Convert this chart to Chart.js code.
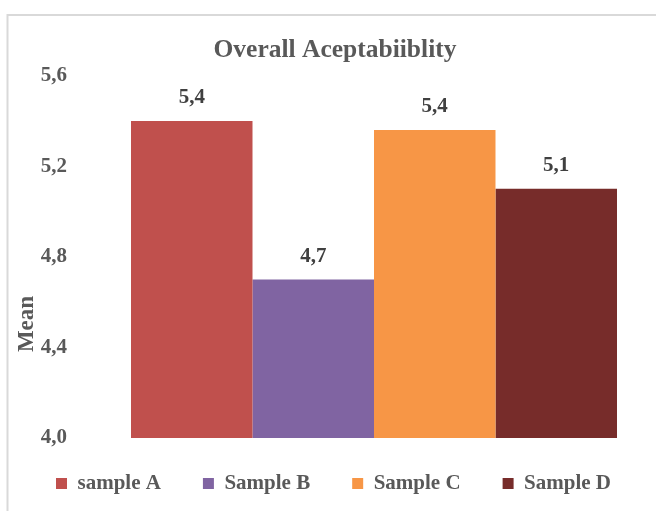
<!DOCTYPE html>
<html>
<head>
<meta charset="utf-8">
<script src="https://cdn.jsdelivr.net/npm/chart.js@4.4.1/dist/chart.umd.min.js"></script>
<style>
  html, body { margin: 0; padding: 0; background: #ffffff; }
  #wrap { width: 656px; height: 511px; position: relative; }
</style>
</head>
<body>
<div id="wrap"><canvas id="chart" width="656" height="511"></canvas></div>
<script>
// Mean overall acceptability score for each sample
const categories = ['Overall Aceptabiiblity'];
const sampleNames = ['sample A', 'Sample B', 'Sample C', 'Sample D'];
const sampleMeans = [5.40, 4.70, 5.36, 5.10];
const sampleColors = ['#C0504D', '#8064A2', '#F79646', '#772C2A'];
const yTicks = { min: 4.0, max: 5.6, step: 0.4 };

const SERIF = '"Liberation Serif", "Times New Roman", serif';
const fmt = v => v.toFixed(1).replace('.', ',');

// Light frame along the top and left edges of the chart object
const framePlugin = {
  id: 'frame',
  beforeDraw(chart) {
    const ctx = chart.ctx;
    ctx.save();
    ctx.fillStyle = '#ffffff';
    ctx.fillRect(0, 0, chart.width, chart.height);
    ctx.strokeStyle = '#D9D9D9';
    ctx.lineWidth = 2;
    ctx.beginPath();
    ctx.moveTo(7.5, chart.height);
    ctx.lineTo(7.5, 15);
    ctx.lineTo(chart.width, 15);
    ctx.stroke();
    ctx.restore();
  }
};

// Pull the legend row up a little closer to the bars
const legendLift = {
  id: 'legendLift',
  afterLayout(chart) {
    const lg = chart.legend;
    if (lg) { lg.top -= 7; lg.bottom -= 7; }
  }
};

// Value labels above every bar
const valueLabels = {
  id: 'valueLabels',
  afterDatasetsDraw(chart) {
    const ctx = chart.ctx;
    ctx.save();
    ctx.font = 'bold 21px ' + SERIF;
    ctx.fillStyle = '#404040';
    ctx.textAlign = 'center';
    ctx.textBaseline = 'middle';
    chart.data.datasets.forEach((ds, i) => {
      const meta = chart.getDatasetMeta(i);
      meta.data.forEach((bar, j) => {
        ctx.fillText(fmt(ds.data[j]), bar.x, bar.y - 23);
      });
    });
    ctx.restore();
  }
};

// Vertical axis caption
const axisCaption = {
  id: 'axisCaption',
  afterDraw(chart) {
    const ctx = chart.ctx;
    ctx.save();
    ctx.font = 'bold 23px ' + SERIF;
    ctx.fillStyle = '#595959';
    ctx.textAlign = 'center';
    ctx.textBaseline = 'middle';
    ctx.translate(27, 324);
    ctx.rotate(-Math.PI / 2);
    ctx.fillText('Mean', 0, 0);
    ctx.restore();
  }
};

const datasets = sampleNames.map((name, i) => ({
  label: name,
  data: [sampleMeans[i]],
  backgroundColor: sampleColors[i],
  borderWidth: 0,
  categoryPercentage: 0.8617,
  barPercentage: 1.0
}));

new Chart(document.getElementById('chart'), {
  type: 'bar',
  data: { labels: categories, datasets },
  plugins: [framePlugin, legendLift, valueLabels, axisCaption],
  options: {
    responsive: false,
    animation: false,
    devicePixelRatio: 1,
    layout: { padding: { left: 14, right: 0, top: 0, bottom: 0 } },
    plugins: {
      title: {
        display: true,
        text: 'Overall Aceptabiiblity',
        color: '#595959',
        font: { family: SERIF, size: 25.5, weight: 'bold' },
        padding: { top: 35.2, bottom: 9.8 }
      },
      legend: {
        position: 'bottom',
        align: 'start',
        maxHeight: 73,
        labels: {
          color: '#595959',
          font: { family: SERIF, size: 21, weight: 'bold' },
          boxWidth: 11,
          boxHeight: 11,
          padding: 42
        }
      },
      tooltip: { enabled: false }
    },
    scales: {
      x: { display: false },
      y: {
        min: yTicks.min,
        max: yTicks.max,
        grid: { display: false, drawTicks: false },
        border: { display: false },
        ticks: {
          stepSize: yTicks.step,
          padding: 25,
          color: '#595959',
          font: { family: SERIF, size: 21, weight: 'bold' },
          callback: v => fmt(v)
        },
        afterFit(scale) { scale.width = 78; }
      }
    }
  }
});
</script>
</body>
</html>
